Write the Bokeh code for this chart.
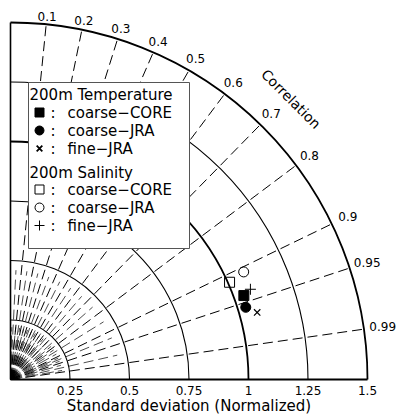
import numpy as np
from bokeh.plotting import figure
from bokeh.core.properties import value
from bokeh.embed import file_html
from bokeh.resources import INLINE

# ---- data ----
names = ["coarse\u2212CORE", "coarse\u2212JRA", "fine\u2212JRA"]
temp_std = [1.042, 1.034, 1.074]
temp_corr = [0.941, 0.956, 0.965]
sal_std = [1.007, 1.079, 1.077]
sal_corr = [0.914, 0.908, 0.936]

std_ticks = [0.25, 0.5, 0.75, 1.0, 1.25, 1.5]
std_labels = ["0.25", "0.5", "0.75", "1", "1.25", "1.5"]
corr_ticks = [0.1, 0.2, 0.3, 0.4, 0.5, 0.6, 0.7, 0.8, 0.9, 0.95, 0.99]
corr_labels = ["0.1", "0.2", "0.3", "0.4", "0.5", "0.6", "0.7", "0.8", "0.9", "0.95", "0.99"]
minor_corr_a = [0.05, 0.15, 0.25, 0.35, 0.45, 0.55, 0.65, 0.75, 0.85, 0.925, 0.975]
minor_corr_b = [0.025, 0.1, 0.175, 0.25, 0.325, 0.4, 0.475, 0.55, 0.625, 0.7,
                0.775, 0.825, 0.875, 0.9125, 0.9375, 0.9625, 0.985]

FONT = value("DejaVu Sans")
W, H = 397, 416
S = 238.0          # pixels per unit
OX, OY = 10, 379   # origin in figure pixels (from top-left)
RMAX = 1.5

p = figure(width=W, height=H,
           x_range=(-OX / S, (W - OX) / S), y_range=(-(H - OY) / S, OY / S),
           output_backend="svg", toolbar_location=None, min_border=0,
           x_axis_location=None, y_axis_location=None, outline_line_color=None,
           background_fill_color="white", border_fill_color="white")
p.grid.visible = False

def to_xy(r, c):
    r = np.asarray(r, float); c = np.asarray(c, float)
    th = np.arccos(c)
    return r * np.cos(th), r * np.sin(th)

# minor rays near origin
for cs, rr, dash in ((minor_corr_b, 0.22, "12 4"), (minor_corr_a, 0.46, "10 5")):
    x1, y1 = to_xy(np.full(len(cs), rr), cs)
    p.segment(x0=0, y0=0, x1=x1, y1=y1, line_color="black", line_width=0.7, line_dash=dash)

# correlation rays
x1, y1 = to_xy(np.full(len(corr_ticks), RMAX), corr_ticks)
p.segment(x0=0, y0=0, x1=x1, y1=y1, line_color="black", line_width=1, line_dash="10 5")

# std arcs
widths = [1.8 if r in (1.0, 1.5) else 1.1 for r in std_ticks]
p.arc(x=0, y=0, radius=std_ticks, start_angle=0, end_angle=np.pi / 2,
      line_color="black", line_width=widths)

# axes lines
p.segment(x0=[0, 0], y0=[0, 0], x1=[RMAX, 0], y1=[0, RMAX], line_color="black",
          line_width=[2.2, 1.6])

# std tick labels
p.text(x=std_ticks, y=-0.047, text=std_labels, text_font=FONT, text_font_size="12px",
       text_align="center", text_baseline="middle", text_color="black")
p.text(x=[0.75], y=[-0.112], text=["Standard deviation (Normalized)"], text_font=FONT,
       text_font_size="15px", text_align="center", text_baseline="middle", text_color="black")

# correlation labels
cc = np.array(corr_ticks)
lx, ly = to_xy(1.53 + 0.05 * cc, cc)
p.text(x=lx, y=ly, text=corr_labels, text_font=FONT, text_font_size="12px",
       text_align="center", text_baseline="middle", text_color="black")
cx, cy = to_xy([1.667], [np.cos(np.pi / 4)])
p.text(x=cx, y=cy, text=["Correlation"], angle=-np.pi / 4, text_font=FONT,
       text_font_size="14px", text_align="center", text_baseline="middle", text_color="black")

# data points
tx, ty = to_xy(temp_std, temp_corr)
sx, sy = to_xy(sal_std, sal_corr)
p.scatter(x=tx[0:1], y=ty[0:1], marker="square", size=10, fill_color="black", line_color="black")
p.scatter(x=tx[1:2], y=ty[1:2], marker="circle", size=10, fill_color="black", line_color="black")
p.scatter(x=tx[2:3], y=ty[2:3], marker="x", size=9, line_color="black", line_width=1.2)
p.scatter(x=sx[0:1], y=sy[0:1], marker="square", size=10, fill_color=None, line_color="black", line_width=1)
p.scatter(x=sx[1:2], y=sy[1:2], marker="circle", size=10, fill_color=None, line_color="black", line_width=1)
p.scatter(x=sx[2:3], y=sy[2:3], marker="cross", size=11, line_color="black", line_width=1)

# legend box (layout in pixels, converted)
def px(xp):
    return (xp - OX) / S
def py(yp):
    return (OY - yp) / S

p.quad(left=px(28), right=px(189), top=py(82), bottom=py(248),
       fill_color="white", line_color="#555555", line_width=1)

headers = ["200m Temperature", "200m Salinity"]
p.text(x=[px(29), px(29)], y=[py(94), py(172)], text=headers, text_font=FONT,
       text_font_size="15px", text_align="left", text_baseline="middle", text_color="black")
rows_y = [112, 130, 148, 189, 207, 225]
row_names = names + names
p.text(x=[px(50)] * 6, y=[py(v) for v in rows_y], text=[":"] * 6, text_font=FONT,
       text_font_size="15px", text_align="left", text_baseline="middle", text_color="black")
p.text(x=[px(67)] * 6, y=[py(v) for v in rows_y], text=row_names, text_font=FONT,
       text_font_size="15px", text_align="left", text_baseline="middle", text_color="black")
ly_ = [py(v) for v in rows_y]
lx_ = px(39)
p.scatter(x=[lx_], y=[ly_[0]], marker="square", size=9, fill_color="black", line_color="black")
p.scatter(x=[lx_], y=[ly_[1]], marker="circle", size=9, fill_color="black", line_color="black")
p.scatter(x=[lx_], y=[ly_[2]], marker="x", size=8, line_color="black", line_width=1.8)
p.scatter(x=[lx_], y=[ly_[3]], marker="square", size=9, fill_color=None, line_color="black", line_width=1)
p.scatter(x=[lx_], y=[ly_[4]], marker="circle", size=9, fill_color=None, line_color="black", line_width=1)
p.scatter(x=[lx_], y=[ly_[5]], marker="cross", size=10, line_color="black", line_width=1)

open("out.html", "w").write(file_html(p, INLINE))
